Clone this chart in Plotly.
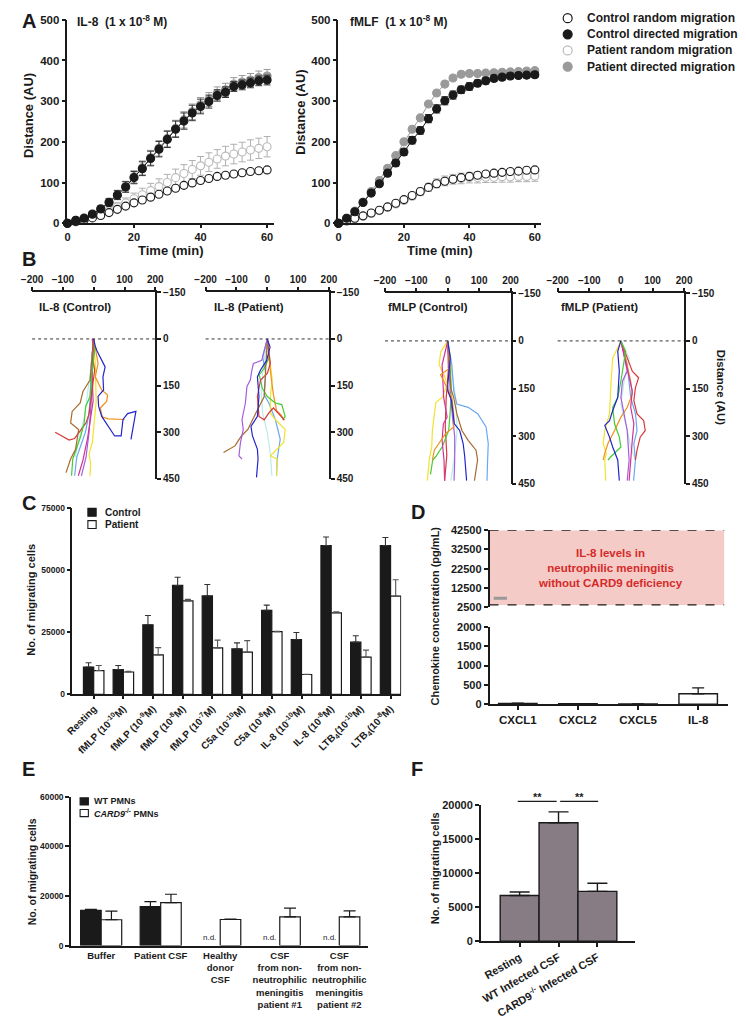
import plotly.graph_objects as go

W, H = 746, 1019
FONT = "Liberation Sans, Arial, Helvetica, sans-serif"
INK = "#1a1a1a"

# ---------------- Panel A data ----------------
time_min = [0, 2.5, 5, 7.5, 10, 12.5, 15, 17.5, 20, 22.5, 25, 27.5, 30, 32.5, 35,
            37.5, 40, 42.5, 45, 47.5, 50, 52.5, 55, 57.5, 60]

il8_ctrl_random = [0, 4, 8, 13, 19, 26, 34, 42, 50, 57, 64, 71, 79, 86, 93, 99, 105, 110, 115, 118, 121, 124, 127, 129, 131]
il8_ctrl_random_err = [0, 1, 1, 1, 2, 2, 2, 2, 3, 3, 3, 3, 3, 3, 3, 3, 3, 3, 3, 3, 3, 3, 3, 3, 3]
il8_ctrl_directed = [0, 7, 12, 22, 35, 51, 69, 89, 112, 134, 159, 182, 206, 231, 251, 271, 287, 299, 314, 322, 336, 340, 345, 350, 352]
il8_ctrl_directed_err = [0, 2, 3, 5, 7, 9, 11, 13, 15, 17, 18, 19, 20, 20, 20, 19, 18, 16, 14, 13, 12, 12, 12, 12, 12]
il8_pat_random = [0, 3, 7, 14, 22, 30, 40, 50, 60, 70, 80, 90, 100, 112, 122, 132, 141, 150, 158, 165, 170, 175, 180, 184, 188]
il8_pat_random_err = [0, 2, 3, 4, 6, 8, 10, 12, 14, 16, 18, 19, 20, 21, 22, 22, 23, 23, 23, 24, 24, 24, 25, 25, 25]
il8_pat_directed = [0, 7, 13, 23, 36, 52, 70, 90, 114, 136, 161, 184, 208, 233, 254, 274, 291, 304, 319, 328, 342, 347, 352, 358, 362]
il8_pat_directed_err = [0, 2, 3, 5, 7, 9, 11, 13, 15, 17, 18, 19, 20, 20, 20, 19, 18, 17, 16, 16, 16, 16, 16, 16, 16]

fmlf_ctrl_random = [0, 6, 12, 18, 25, 32, 40, 49, 58, 68, 78, 88, 97, 103, 108, 112, 115, 118, 121, 123, 125, 127, 128, 130, 131]
fmlf_ctrl_random_err = [0, 1, 1, 2, 2, 2, 2, 3, 3, 3, 3, 3, 3, 3, 3, 3, 3, 3, 3, 3, 3, 3, 3, 3, 3]
fmlf_ctrl_directed = [0, 12, 28, 51, 74, 97, 123, 148, 175, 204, 228, 257, 281, 301, 315, 328, 336, 344, 350, 356, 359, 362, 363, 364, 365]
fmlf_ctrl_directed_err = [0, 2, 3, 4, 5, 6, 7, 8, 8, 9, 9, 10, 10, 10, 10, 9, 9, 8, 8, 8, 7, 7, 7, 7, 7]
fmlf_pat_random = [0, 5, 11, 17, 24, 31, 39, 47, 56, 66, 77, 88, 98, 104, 108, 110, 112, 112, 113, 113, 114, 114, 115, 115, 116]
fmlf_pat_random_err = [0, 2, 2, 3, 3, 4, 5, 6, 7, 8, 9, 10, 11, 12, 12, 13, 13, 13, 13, 13, 13, 13, 13, 13, 13]
fmlf_pat_directed = [0, 12, 30, 52, 78, 105, 135, 166, 200, 231, 259, 293, 320, 342, 357, 366, 368, 368, 369, 370, 371, 372, 373, 374, 375]
fmlf_pat_directed_err = [0, 1, 1, 2, 2, 2, 3, 3, 3, 3, 3, 3, 3, 3, 3, 3, 3, 3, 3, 3, 3, 3, 3, 3, 3]

legend_a = ["Control random migration", "Control directed migration",
            "Patient random migration", "Patient directed migration"]

# ---------------- Panel B data (cell tracks: x, distance) ----------------
BLUE, ORANGE, BROWN, RED, GREEN = "#2424cc", "#f0901a", "#a86a2c", "#d63a3a", "#44cc33"
MAGENTA, PURPLE, LBLUE, YELLOW, CYAN = "#d0339a", "#a65ddd", "#6aa8ee", "#f2e22a", "#b8ece6"

b1_tracks = [
    (CYAN,    [0, -5, -10, -30, -50, -60], [0, 40, 100, 250, 330, 380]),
    (YELLOW,  [0, 5, 8, 2, -4, -15, -10, -12], [0, 80, 200, 280, 330, 370, 400, 440]),
    (LBLUE,   [0, -8, -12, -17, -27, -40, -55, -62], [0, 80, 200, 250, 300, 340, 380, 440]),
    (PURPLE,  [0, -3, -8, -15, -25, -40], [0, 100, 200, 300, 380, 440]),
    (MAGENTA, [-5, -2, -3, -5, -2, -10, -20, -35, -50], [0, 20, 60, 120, 200, 260, 320, 390, 440]),
    (RED,     [0, -5, 3, -3, -10, -15, -25, -45, -62, -80, -105, -125], [0, 50, 100, 150, 200, 240, 270, 295, 320, 325, 310, 300]),
    (GREEN,   [0, 3, -5, -12, -26, -31, -42, -58, -68, -72], [0, 37, 100, 185, 217, 270, 312, 355, 386, 440]),
    (BROWN,   [0, -7, -12, -35, -44, -70, -75, -49, -54, -59, -75, -90], [0, 69, 132, 169, 206, 233, 270, 291, 323, 355, 386, 430]),
    (ORANGE,  [0, 7, 14, 5, 26, 45, 42, 21, 28, 47, 100], [0, 37, 79, 122, 164, 180, 201, 222, 251, 257, 259]),
    (BLUE,    [0, 4, 10, 37, 30, 32, 14, 16, 26, 47, 68, 89, 95, 110, 137, 121], [0, 20, 37, 90, 122, 164, 185, 217, 249, 281, 312, 312, 259, 240, 233, 323]),
]
b2_tracks = [
    (CYAN,    [0, -12, -20, -15, 0, 10, 15], [0, 80, 160, 240, 300, 370, 440]),
    (LBLUE,   [0, -15, -5, -10, 5, 26, 42, 32, 30], [0, 58, 111, 180, 206, 259, 323, 386, 440]),
    (YELLOW,  [0, 10, 16, 10, 10, 26, 58, 53, 32, 10, 32, 30], [0, 79, 132, 185, 238, 259, 291, 333, 355, 376, 386, 440]),
    (ORANGE,  [0, 5, 12, 20, 30, 45, 55], [0, 60, 120, 180, 230, 245, 262]),
    (GREEN,   [0, 5, -11, -26, -16, 0, 26, 47, 58, 50], [0, 63, 95, 116, 159, 185, 206, 211, 249, 260]),
    (RED,     [0, 10, 0, -22, -32, -27, -10, 5, 20, 38, 55], [0, 79, 111, 132, 185, 249, 260, 238, 222, 240, 260]),
    (BROWN,   [0, -5, -10, -37, -63, -84, -105, -142], [0, 79, 185, 238, 291, 312, 344, 365]),
    (PURPLE,  [0, -18, -45, -50, -55, -66, -71, -82, -78, -87, -92, -82], [0, 69, 79, 100, 132, 153, 206, 259, 291, 333, 376, 386]),
    (BLUE,    [0, 9, -2, -22, -32, -27, -32, -53, -48, -32, -30, -35], [0, 26, 69, 100, 122, 185, 249, 281, 312, 355, 386, 445]),
]
b3_tracks = [
    (CYAN,    [0, 15, 25, 30, 22, 10], [0, 100, 180, 280, 360, 440]),
    (RED,     [0, 2, -5, -8, -3, -10], [0, 90, 180, 270, 360, 440]),
    (YELLOW,  [0, -22, -28, -12, -2, -18, -38, -43, -49, -51, -59, -65], [0, 33, 75, 106, 137, 178, 194, 230, 282, 334, 375, 440]),
    (LBLUE,   [0, 13, 19, 29, 65, 96, 122, 129, 127, 125], [0, 75, 157, 199, 209, 230, 271, 323, 375, 440]),
    (GREEN,   [0, 8, 11, 8, 3, -18, -38, -48, -55], [0, 75, 147, 220, 282, 334, 364, 375, 420]),
    (PURPLE,  [0, 3, 8, 15, 22, 22, 20], [0, 80, 160, 240, 300, 380, 440]),
    (MAGENTA, [0, -13, -18, -13, -2, -14, -18, -12, -10], [0, 50, 75, 178, 240, 261, 313, 375, 440]),
    (BROWN,   [0, 5, 10, 19, 29, 45, 65, 90, 95, 85], [0, 80, 150, 178, 230, 282, 313, 344, 375, 440]),
    (ORANGE,  [0, 8, -23, -2, 13, 19, 19, -7, -28, -43, -49], [0, 85, 106, 147, 178, 230, 271, 292, 323, 344, 375]),
    (BLUE,    [0, 8, 0, 0, 12, 21, 38, 49, 54, 60], [0, 54, 137, 157, 188, 261, 282, 323, 364, 440]),
]
b4_tracks = [
    (CYAN,    [0, 26, 10, 0, 20, 31, 46], [0, 54, 127, 199, 282, 334, 375]),
    (LBLUE,   [0, 20, 31, 46, 51, 41, 46, 40], [0, 75, 178, 230, 282, 323, 375, 440]),
    (YELLOW,  [0, -10, -26, -31, -36, -51, -56, -46, -51, -48], [0, 23, 54, 127, 230, 282, 323, 354, 375, 440]),
    (ORANGE,  [0, 15, 31, 36, 20, 0, -20, -41, -51, -56], [0, 54, 127, 168, 209, 240, 282, 323, 354, 375]),
    (PURPLE,  [0, 20, 5, 0, 10, 20, 26, 20], [0, 95, 127, 178, 230, 282, 375, 440]),
    (MAGENTA, [0, 10, 26, 36, 31, 41, 36, 31, 26], [0, 44, 106, 157, 209, 261, 313, 375, 440]),
    (RED,     [0, 21, 36, 56, 46, 41, 51, 72, 77, 61, 51, 46], [0, 54, 95, 116, 147, 188, 230, 251, 282, 303, 344, 375]),
    (GREEN,   [0, 15, 0, -10, -26, -20, -5, 0, -31, -41], [0, 33, 127, 178, 209, 261, 303, 334, 364, 375]),
    (BLUE,    [0, -10, -5, -10, -26, -36, -51, -36, -26, -10, -5], [0, 33, 95, 178, 220, 251, 266, 303, 334, 375, 440]),
]
b_titles = ["IL-8 (Control)", "IL-8 (Patient)", "fMLP (Control)", "fMLP (Patient)"]

# ---------------- Panel C data ----------------
c_labels = ["Resting", "fMLP (10<sup>-10</sup>M)", "fMLP (10<sup>-9</sup>M)", "fMLP (10<sup>-8</sup>M)",
            "fMLP (10<sup>-7</sup>M)", "C5a (10<sup>-10</sup>M)", "C5a (10<sup>-8</sup>M)",
            "IL-8 (10<sup>-10</sup>M)", "IL-8 (10<sup>-8</sup>M)", "LTB<sub>4</sub>(10<sup>-10</sup>M)",
            "LTB<sub>4</sub>(10<sup>-8</sup>M)"]
c_control = [11000, 10000, 28000, 43800, 39600, 18300, 33800, 22000, 59800, 21000, 59800]
c_control_err = [1700, 1600, 3700, 3300, 4600, 2400, 2100, 2900, 3500, 2600, 3300]
c_patient = [9600, 9000, 15900, 37600, 18700, 17000, 25200, 8000, 32800, 15000, 39500]
c_patient_err = [2000, 300, 2900, 600, 3100, 4600, 200, 100, 400, 2800, 6600]

# ---------------- Panel D data ----------------
d_labels = ["CXCL1", "CXCL2", "CXCL5", "IL-8"]
d_values = [22, 14, 8, 272]
d_err = [8, 5, 3, 152]
d_band_text = "IL-8 levels in<br>neutrophilic meningitis<br>without CARD9 deficiency"

# ---------------- Panel E data ----------------
e_labels = ["Buffer", "Patient CSF", "Healthy<br>donor<br>CSF",
            "CSF<br>from non-<br>neutrophilic<br>meningitis<br>patient #1",
            "CSF<br>from non-<br>neutrophilic<br>meningitis<br>patient #2"]
e_wt = [14200, 15700, None, None, None]
e_wt_err = [400, 2000, 0, 0, 0]
e_card9 = [10400, 17300, 10500, 11600, 11600]
e_card9_err = [3500, 3400, 150, 3500, 2400]

# ---------------- Panel F data ----------------
f_labels = ["Resting", "WT Infected CSF", "CARD9<sup>-/-</sup> Infected CSF"]
f_values = [6700, 17350, 7300]
f_err = [520, 1600, 1200]


# ---------------- helpers ----------------
def xd(a, b):
    return [a / W, b / W]


def yd(top, bottom):
    return [1 - bottom / H, 1 - top / H]


def px(p):
    return p / W


def py(p):
    return 1 - p / H


def tf(size):
    return dict(family=FONT, size=size, color=INK, weight="bold")


def axis(**kw):
    base = dict(showline=True, linecolor=INK, linewidth=1.5, ticks="outside", ticklen=4,
                tickwidth=1.5, tickcolor=INK, showgrid=False, zeroline=False,
                tickfont=tf(11), fixedrange=True)
    base.update(kw)
    return base


fig = go.Figure()
annotations = []
shapes = []


def ann(text, x, y, size, xanchor="center", yanchor="middle", angle=0, color=INK, weight="bold", **kw):
    d = dict(text=text, x=x, y=y, xref=kw.pop("xref", "paper"), yref=kw.pop("yref", "paper"),
             showarrow=False, xanchor=xanchor, yanchor=yanchor, textangle=angle,
             font=dict(family=FONT, size=size, color=color, weight=weight))
    d.update(kw)
    annotations.append(d)


# ---------------- Panel A traces ----------------
def a_series(xa, ya, vals, errs, fill, edge, ecolor, lcolor):
    fig.add_trace(go.Scatter(
        x=time_min, y=vals, mode="lines+markers", xaxis=xa, yaxis=ya, showlegend=False,
        cliponaxis=False,
        line=dict(color=lcolor, width=1),
        marker=dict(size=8, color=fill, line=dict(color=edge, width=1.1)),
        error_y=dict(type="data", array=errs, color=ecolor, thickness=1, width=3.5)))


for xa, ya, pr, pd_, cr, cd, pre, pde, cre, cde in [
    ("x", "y", il8_pat_random, il8_pat_directed, il8_ctrl_random, il8_ctrl_directed,
     il8_pat_random_err, il8_pat_directed_err, il8_ctrl_random_err, il8_ctrl_directed_err),
    ("x2", "y2", fmlf_pat_random, fmlf_pat_directed, fmlf_ctrl_random, fmlf_ctrl_directed,
     fmlf_pat_random_err, fmlf_pat_directed_err, fmlf_ctrl_random_err, fmlf_ctrl_directed_err)]:
    a_series(xa, ya, pr, pre, "white", "#b9b9b9", "#b0b0b0", "#c8c8c8")
    a_series(xa, ya, pd_, pde, "#9a9a9a", "#9a9a9a", "#9a9a9a", "#9a9a9a")
    a_series(xa, ya, cr, cre, "white", INK, "#555555", "#444444")
    a_series(xa, ya, cd, cde, INK, INK, "#333333", INK)

# Panel A legend (symbols + text)
leg_rows = [12.3, 28.7, 45.0, 61.5]
leg_style = [("white", INK), (INK, INK), ("white", "#b9b9b9"), ("#9a9a9a", "#9a9a9a")]
for (fillc, edgec), yy, label in zip(leg_style, leg_rows, legend_a):
    r = 4.6
    shapes.append(dict(type="circle", xref="paper", yref="paper",
                       x0=px(572 - r), x1=px(572 + r), y0=py(yy + r), y1=py(yy - r),
                       fillcolor=fillc, line=dict(color=edgec, width=1.2)))
    ann(label, px(590), py(yy), 12, xanchor="left")

ann("IL-8  (1 x 10<sup>-8</sup> M)", px(66), py(15), 12, xanchor="left")
ann("fMLF  (1 x 10<sup>-8</sup> M)", px(346), py(15), 12, xanchor="left")
ann("Distance (AU)", px(18), py(111), 13, angle=-90)
ann("Distance (AU)", px(298), py(108), 13, angle=-90)
ann("Time (min)", px(164), py(248), 13)
ann("Time (min)", px(441), py(248), 13)

# ---------------- Panel B traces ----------------
b_axes = [("x3", "y3"), ("x4", "y4"), ("x5", "y5"), ("x6", "y6")]
for (xa, ya), tracks in zip(b_axes, [b1_tracks, b2_tracks, b3_tracks, b4_tracks]):
    for color, xs, ys in tracks:
        fig.add_trace(go.Scatter(x=xs, y=ys, mode="lines", xaxis=xa, yaxis=ya,
                                 showlegend=False, line=dict(color=color, width=1.2)))
    shapes.append(dict(type="line", xref=xa + " domain", yref=ya, x0=0, x1=1, y0=0, y1=0,
                       line=dict(color="#333333", width=1, dash="dot")))

for title, xl in zip(b_titles, [27, 207, 385, 563]):
    ann(title, px(xl), py(305), 11.5, xanchor="left")
ann("Distance (AU)", px(730), py(387), 11.5, angle=90)

# ---------------- Panel C traces ----------------
c_x = list(range(len(c_labels)))
fig.add_trace(go.Bar(x=c_x, y=c_control, xaxis="x7", yaxis="y7", showlegend=False,
                     marker=dict(color=INK, line=dict(color=INK, width=1.2)),
                     error_y=dict(type="data", array=c_control_err, arrayminus=[0] * 11,
                                  symmetric=False, color="#333333", thickness=1.1, width=3)))
fig.add_trace(go.Bar(x=c_x, y=c_patient, xaxis="x7", yaxis="y7", showlegend=False,
                     marker=dict(color="white", line=dict(color=INK, width=1.2)),
                     error_y=dict(type="data", array=c_patient_err, arrayminus=[0] * 11,
                                  symmetric=False, color="#555555", thickness=1.1, width=3)))
for fillc, yy, label in [(INK, 512.9, "Control"), ("white", 525.3, "Patient")]:
    shapes.append(dict(type="rect", xref="paper", yref="paper", x0=px(79), x1=px(87.5),
                       y0=py(yy + 4), y1=py(yy - 4), fillcolor=fillc, line=dict(color=INK, width=1.1)))
    ann(label, px(95), py(yy), 10, xanchor="left")
ann("No. of migrating cells", px(21), py(601), 11, angle=-90)

# ---------------- Panel D traces ----------------
d_x = list(range(len(d_labels)))
fig.add_trace(go.Bar(x=d_x, y=d_values, xaxis="x9", yaxis="y9", showlegend=False, width=0.64,
                     marker=dict(color="white", line=dict(color=INK, width=1.4)),
                     error_y=dict(type="data", array=d_err, arrayminus=[0] * 4, symmetric=False,
                                  color=INK, thickness=1.3, width=6)))
shapes.append(dict(type="rect", xref="x8 domain", yref="y8", x0=0, x1=0.983, y0=3700, y1=42500,
                   fillcolor="#f4cbc6", line=dict(width=0), layer="below"))
for yv in [3700, 42500]:
    shapes.append(dict(type="line", xref="x8 domain", yref="y8", x0=0, x1=0.983, y0=yv, y1=yv,
                       line=dict(color=INK, width=1.3, dash="dash")))
shapes.append(dict(type="line", xref="x8", yref="y8", x0=-0.40, x1=-0.18, y0=7200, y1=7200,
                   line=dict(color="#999999", width=3)))
ann(d_band_text, 1.55, 22700, 11.5, color="#d42a2a", xref="x8", yref="y8")
ann("Chemokine concentration (pg/mL)", px(436), py(618), 11, angle=-90)

# ---------------- Panel E traces ----------------
e_x = list(range(len(e_labels)))
fig.add_trace(go.Bar(x=e_x, y=e_wt, xaxis="x10", yaxis="y10", showlegend=False,
                     marker=dict(color=INK, line=dict(color=INK, width=1.2)),
                     error_y=dict(type="data", array=e_wt_err, arrayminus=[0] * 5, symmetric=False,
                                  color=INK, thickness=1.2, width=6)))
fig.add_trace(go.Bar(x=e_x, y=e_card9, xaxis="x10", yaxis="y10", showlegend=False,
                     marker=dict(color="white", line=dict(color=INK, width=1.2)),
                     error_y=dict(type="data", array=e_card9_err, arrayminus=[0] * 5, symmetric=False,
                                  color=INK, thickness=1.2, width=6)))
for i, v in enumerate(e_wt):
    if v is None:
        ann("n.d.", i - 0.1725, 0, 8, yanchor="bottom", weight="normal", xref="x10", yref="y10", yshift=2)
for fillc, yy, label in [(INK, 805.7, "WT PMNs"), ("white", 817.5, "<i>CARD9</i><sup>-/-</sup> PMNs")]:
    shapes.append(dict(type="rect", xref="paper", yref="paper", x0=px(71), x1=px(79.5),
                       y0=py(yy + 3.6), y1=py(yy - 3.6), fillcolor=fillc, line=dict(color=INK, width=1.1)))
    ann(label, px(83), py(yy), 9, xanchor="left")
ann("No. of migrating cells", px(21), py(877), 10.5, angle=-90)

# ---------------- Panel F traces ----------------
f_x = list(range(len(f_labels)))
fig.add_trace(go.Bar(x=f_x, y=f_values, xaxis="x11", yaxis="y11", showlegend=False, width=1.0,
                     marker=dict(color="#877c83", line=dict(color=INK, width=1.4)),
                     error_y=dict(type="data", array=f_err, arrayminus=[0] * 3, symmetric=False,
                                  color=INK, thickness=1.4, width=10)))
for x0, x1 in [(520.7, 560.7), (564.3, 603.3)]:
    shapes.append(dict(type="line", xref="paper", yref="paper", x0=px(x0), x1=px(x1),
                       y0=py(805.7), y1=py(805.7), line=dict(color=INK, width=1.3)))
    ann("**", px((x0 + x1) / 2), py(801), 11, yanchor="middle")
ann("No. of migrating cells", px(436), py(873), 11, angle=-90)

# ---------------- Panel letters ----------------
for letter, x, y in [("A", 19, 15), ("B", 19, 256), ("C", 19, 503), ("D", 418, 513),
                     ("E", 18, 773), ("F", 417, 773)]:
    ann(letter, px(x), py(y), 20)

# ---------------- Layout ----------------
layout = dict(
    width=W, height=H, autosize=False, margin=dict(l=0, r=0, t=0, b=0),
    paper_bgcolor="white", plot_bgcolor="rgba(0,0,0,0)",
    font=dict(family=FONT, color=INK, weight="bold"),
    barmode="group", bargap=0.31, bargroupgap=0,
    showlegend=False,
    # A
    xaxis=axis(domain=xd(58, 270), range=[0, 62], tickvals=[0, 20, 40, 60], anchor="y", ticklen=3),
    yaxis=axis(domain=yd(14, 220), range=[0, 500], tickvals=[0, 100, 200, 300, 400, 500],
               anchor="x", tickfont=tf(11.5)),
    xaxis2=axis(domain=xd(336.5, 545), range=[0, 62], tickvals=[0, 20, 40, 60], anchor="y2", ticklen=3),
    yaxis2=axis(domain=yd(14, 220), range=[0, 500], tickvals=[0, 100, 200, 300, 400, 500],
                anchor="x2", tickfont=tf(11.5)),
    # D top/bottom
    xaxis8=axis(domain=xd(491.7, 737), range=[-0.47, 3.5], anchor="y8", visible=False),
    yaxis8=axis(domain=yd(531, 609), range=[2500, 42500],
                tickvals=[2500, 12500, 22500, 32500, 42500], ticktext=["2500", "12500", "22500", "32500", "42500"],
                anchor="x8", tickfont=tf(11)),
    xaxis9=axis(domain=xd(491.7, 737), range=[-0.47, 3.5], anchor="y9",
                tickvals=d_x, ticktext=d_labels, tickfont=tf(11.5)),
    yaxis9=axis(domain=yd(629, 707.3), range=[0, 2000],
                tickvals=[0, 500, 1000, 1500, 2000], anchor="x9", tickfont=tf(11)),
    # C
    xaxis7=axis(domain=xd(63, 401), range=[-0.72, 10.36], anchor="y7", tickvals=c_x,
                ticktext=c_labels, tickangle=-45, tickfont=tf(10), ticklen=3),
    yaxis7=axis(domain=yd(508.3, 697.3), range=[0, 75000], tickvals=[0, 25000, 50000, 75000],
                anchor="x7", tickfont=tf(8.5), tickformat="d"),
    # E
    xaxis10=axis(domain=xd(61.7, 366.7), range=[-0.506, 4.48], anchor="y10", tickvals=e_x,
                 ticktext=e_labels, tickfont=tf(9.5), ticks="", ticklen=0),
    yaxis10=axis(domain=yd(801, 951.7), range=[0, 60000], tickvals=[0, 20000, 40000, 60000],
                 anchor="x10", tickfont=tf(8.5), tickformat="d"),
    # F
    xaxis11=axis(domain=xd(482.7, 641.7), range=[-1, 2.98], anchor="y11", tickvals=f_x,
                 ticktext=f_labels, tickangle=-30, tickfont=tf(11)),
    yaxis11=axis(domain=yd(809, 947.3), range=[0, 20000],
                 tickvals=[0, 5000, 10000, 15000, 20000], anchor="x11", tickfont=tf(11),
                 tickformat="d"),
    annotations=annotations, shapes=shapes,
)

b_domains = [((21.7, 148.3), (290, 479)), ((200, 326.7), (290, 479)),
             ((384.3, 513.3), (291, 484)), ((561.7, 691.7), (291, 484))]
for k, ((xa0, xa1), (ya0, ya1)) in enumerate(b_domains, start=3):
    layout[f"xaxis{k}"] = axis(domain=xd(xa0, xa1), range=[-200, 200], side="top",
                               anchor=f"y{k}", tickvals=[-200, -100, 0, 100, 200], tickfont=tf(10))
    layout[f"yaxis{k}"] = axis(domain=yd(ya0, ya1), range=[450, -150], side="right",
                               anchor=f"x{k}", tickvals=[-150, 0, 150, 300, 450], tickfont=tf(10))

fig.update_layout(**layout)

fig.write_html("out.html", config={"displayModeBar": False},
               post_script="document.body.style.margin='0';")
